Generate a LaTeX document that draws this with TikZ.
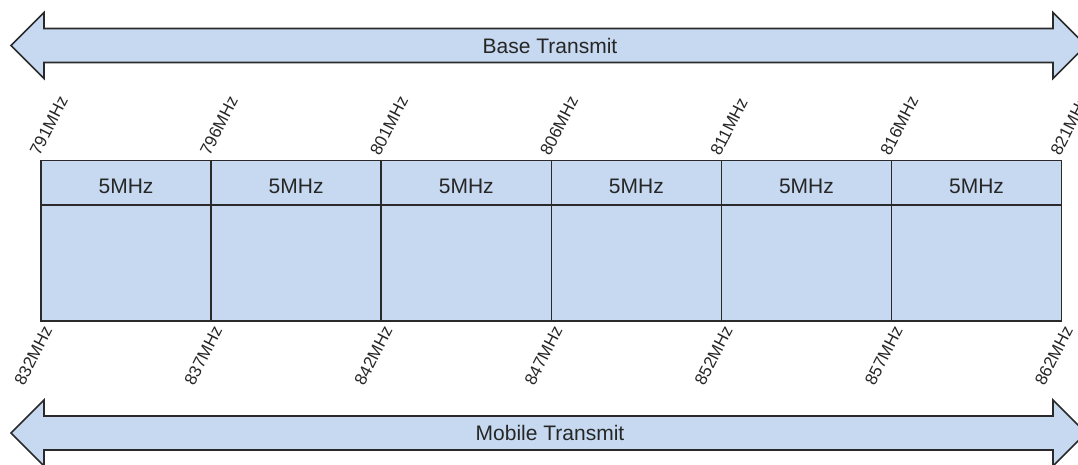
\documentclass[tikz,border=0pt]{standalone}
\usepackage{fontspec}
\setmainfont{Liberation Sans}
\usepackage{tikz}
\usetikzlibrary{calc}
\definecolor{bandfill}{HTML}{C6D9F1}
\definecolor{edgegray}{HTML}{2A2A2A}
\definecolor{txtgray}{HTML}{262626}

\begin{document}
\begin{tikzpicture}[x=1pt,y=-1pt,line join=miter,
	blockarrow/.style={draw=edgegray,fill=bandfill,line width=1.6pt},
	bandtxt/.style={text=txtgray,font=\fontsize{21}{25}\selectfont,inner sep=0pt},
	hdrcell/.style={
		draw=edgegray,fill=bandfill,line width=1.6pt,
		minimum width=170.1pt,minimum height=44.5pt,
		inner sep=0pt,outer sep=0pt,
		text=txtgray,font=\fontsize{21}{25}\selectfont,
		text height=21pt,text depth=0pt,
	},
	bodycell/.style={
		draw=edgegray,fill=bandfill,line width=1.6pt,
		minimum width=170.1pt,minimum height=116pt,
		inner sep=0pt,outer sep=0pt,
	},
	freq/.style={rotate=63,inner sep=2.5pt,text=txtgray,
		font=\fontsize{17}{20}\selectfont},
	]
	\useasboundingbox (0,0) rectangle (1078,464);
	\clip (0,0) rectangle (1078,464);

	% the two double block arrows
	\foreach \cy/\nm/\txt in {45.5/base/Base Transmit,433/mobile/Mobile Transmit}{
		\draw[blockarrow] (11,\cy) -- (44,{\cy-33}) -- (44,{\cy-17})
			-- (1053,{\cy-17}) -- (1053,{\cy-33}) -- (1086,\cy)
			-- (1053,{\cy+33}) -- (1053,{\cy+17}) -- (44,{\cy+17})
			-- (44,{\cy+33}) -- cycle;
		\node[bandtxt] (\nm) at (550,\cy) {\txt};
	}

	% channel blocks
	\foreach \i in {0,...,5}{
		\node[bodycell] (b\i) at ({41+170.1*(\i+0.5)},263) {};
		\node[hdrcell] (h\i) at ({41+170.1*(\i+0.5)},182.75) {5MHz};
	}

	% band edges
	\foreach \f [count=\i from 0] in {791,796,...,821}{
		\node[freq,anchor=south west] (up\i) at ({41+170.1*\i},160.5) {\f MHz};
	}
	\foreach \f [count=\i from 0] in {832,837,...,862}{
		\node[freq,anchor=north east] (dn\i) at ({41+170.1*\i},321) {\f MHz};
	}
\end{tikzpicture}
\end{document}
